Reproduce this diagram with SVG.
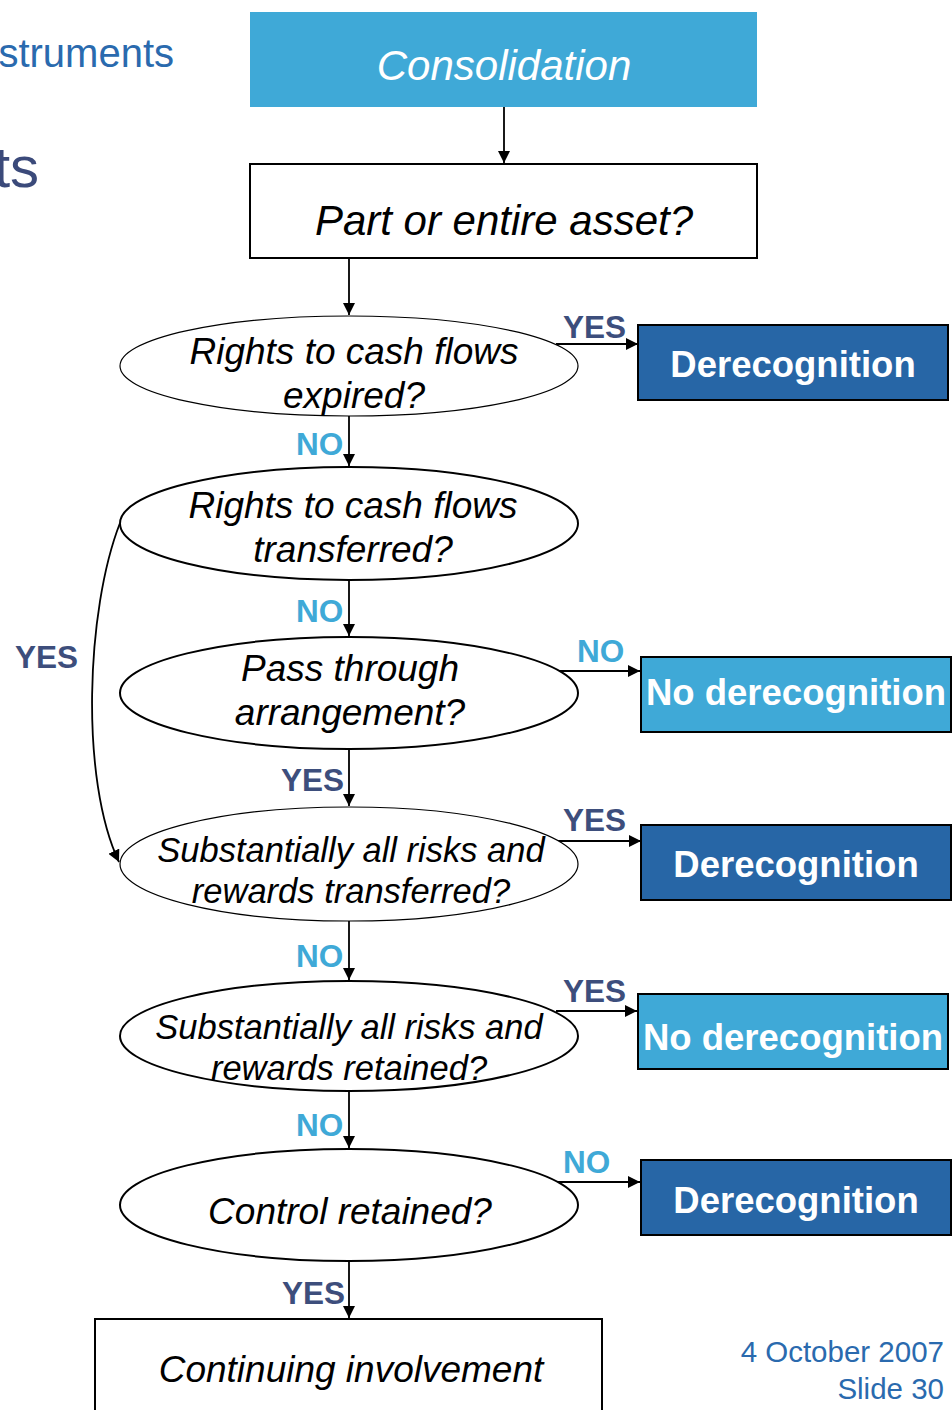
<svg xmlns="http://www.w3.org/2000/svg" width="952" height="1410" viewBox="0 0 952 1410">
  <defs>
    <marker id="arrow" viewBox="0 0 10 10" refX="10" refY="5" markerWidth="12" markerHeight="12" markerUnits="userSpaceOnUse" orient="auto">
      <path d="M0,0 L10,5 L0,10 z" fill="#000"/>
    </marker>
    <style>
      .q { font-family: "Liberation Sans", Arial, sans-serif; font-style: italic; fill: #000; text-anchor: middle; }
      .res { font-family: "Liberation Sans", Arial, sans-serif; font-weight: bold; fill: #fff; text-anchor: middle; font-size: 36.5px; }
      .yes { font-family: "Liberation Sans", Arial, sans-serif; font-weight: bold; fill: #3D4E7C; font-size: 31.5px; }
      .no { font-family: "Liberation Sans", Arial, sans-serif; font-weight: bold; fill: #3FA9D7; font-size: 31.5px; }
      .dec { fill: #fff; stroke: #000; stroke-width: 2; }
      .thin { stroke-width: 1.2; }
      .light { fill: #3FA9D7; stroke: #000; stroke-width: 2; }
      .dark { fill: #2766A6; stroke: #000; stroke-width: 2; }
      .edge { fill: none; stroke: #000; stroke-width: 1.8; marker-end: url(#arrow); }
    </style>
  </defs>
  <rect width="952" height="1410" fill="#fff"/>

  <!-- slide header and footer fragments -->
  <g id="header">
    <text x="174" y="67" font-family="Liberation Sans, Arial, sans-serif" font-size="40" fill="#2A6AAE" text-anchor="end">struments</text>
    <text x="39" y="187" font-family="Liberation Sans, Arial, sans-serif" font-size="58" fill="#3B4A7A" text-anchor="end">ts</text>
  </g>
  <g id="footer" font-family="Liberation Sans, Arial, sans-serif" font-size="29.5" fill="#2A6AAE" text-anchor="end">
    <text x="944" y="1362">4 October 2007</text>
    <text x="944" y="1399">Slide 30</text>
  </g>

  <!-- connectors -->
  <g id="connectors">
    <path class="edge" d="M504,107 V163"/>
    <path class="edge" d="M349,258 V315"/>
    <path class="edge" d="M556,344 H638"/>
    <path class="edge" d="M349,416 V466"/>
    <path class="edge" d="M349,580 V636"/>
    <path class="edge" d="M556,671 H640"/>
    <path class="edge" d="M349,749 V806"/>
    <path class="edge" d="M120,523 C86,610 80,780 119,862"/>
    <path class="edge" d="M556,841 H641"/>
    <path class="edge" d="M349,921 V980"/>
    <path class="edge" d="M556,1011 H637"/>
    <path class="edge" d="M349,1091 V1148"/>
    <path class="edge" d="M556,1182 H640"/>
    <path class="edge" d="M349,1261 V1318"/>
    <text class="yes" x="563" y="338">YES</text>
    <text class="no" x="296" y="455">NO</text>
    <text class="no" x="296" y="622">NO</text>
    <text class="yes" x="15" y="668">YES</text>
    <text class="no" x="577" y="662">NO</text>
    <text class="yes" x="281" y="791">YES</text>
    <text class="yes" x="563" y="831">YES</text>
    <text class="no" x="296" y="967">NO</text>
    <text class="yes" x="563" y="1002">YES</text>
    <text class="no" x="296" y="1136">NO</text>
    <text class="no" x="563" y="1173">NO</text>
    <text class="yes" x="282" y="1304">YES</text>
  </g>

  <g id="consolidation">
    <rect x="250" y="12" width="507" height="95" fill="#3FA9D7"/>
    <text class="q" x="504" y="80" font-size="42" style="fill:#fff">Consolidation</text>
  </g>

  <g id="part-or-entire">
    <rect class="dec" x="250" y="164" width="507" height="94"/>
    <text class="q" x="504" y="235" font-size="42">Part or entire asset?</text>
  </g>

  <g id="expired">
    <ellipse class="dec thin" cx="349" cy="366" rx="229" ry="50"/>
    <text class="q" font-size="37"><tspan x="354" y="364">Rights to cash flows</tspan><tspan x="354" y="408">expired?</tspan></text>
  </g>

  <g id="derecognition-1">
    <rect class="dark" x="638" y="325" width="310" height="75"/>
    <text class="res" x="793" y="377">Derecognition</text>
  </g>

  <g id="transferred">
    <ellipse class="dec" cx="349" cy="523.5" rx="229" ry="56.5"/>
    <text class="q" font-size="37"><tspan x="353" y="518">Rights to cash flows</tspan><tspan x="353" y="562">transferred?</tspan></text>
  </g>

  <g id="pass-through">
    <ellipse class="dec" cx="349" cy="693" rx="229" ry="56"/>
    <text class="q" font-size="37"><tspan x="350" y="681">Pass through</tspan><tspan x="350" y="725">arrangement?</tspan></text>
  </g>

  <g id="no-derecognition-1">
    <rect class="light" x="641" y="657" width="310" height="75"/>
    <text class="res" x="796" y="705">No derecognition</text>
  </g>

  <g id="risks-transferred">
    <ellipse class="dec thin" cx="349" cy="864" rx="229" ry="57"/>
    <text class="q" font-size="34.5"><tspan x="351" y="862">Substantially all risks and</tspan><tspan x="351" y="903">rewards transferred?</tspan></text>
  </g>

  <g id="derecognition-2">
    <rect class="dark" x="641" y="825" width="310" height="75"/>
    <text class="res" x="796" y="877">Derecognition</text>
  </g>

  <g id="risks-retained">
    <ellipse class="dec" cx="349" cy="1036" rx="229" ry="55"/>
    <text class="q" font-size="34.5"><tspan x="349" y="1039">Substantially all risks and</tspan><tspan x="349" y="1080">rewards retained?</tspan></text>
  </g>

  <g id="no-derecognition-2">
    <rect class="light" x="638" y="994" width="310" height="75"/>
    <text class="res" x="793" y="1050">No derecognition</text>
  </g>

  <g id="control-retained">
    <ellipse class="dec" cx="349" cy="1205" rx="229" ry="56"/>
    <text class="q" x="350" y="1224" font-size="37">Control retained?</text>
  </g>

  <g id="derecognition-3">
    <rect class="dark" x="641" y="1160" width="310" height="75"/>
    <text class="res" x="796" y="1213">Derecognition</text>
  </g>

  <g id="continuing-involvement">
    <rect class="dec" x="95" y="1319" width="507" height="100"/>
    <text class="q" x="351" y="1382" font-size="37">Continuing involvement</text>
  </g>
</svg>
